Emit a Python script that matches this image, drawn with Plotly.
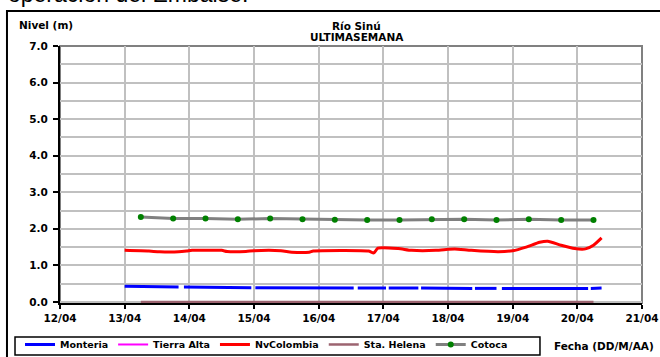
import plotly.graph_objects as go

# Niveles del Río Sinú, última semana (m)
monteria_t = ["2011-04-13 00:00", "2011-04-13 11:00", "2011-04-13 12:00", "2011-04-13 20:00", "2011-04-13 21:00",
              "2011-04-13 22:00", "2011-04-14 13:00", "2011-04-14 14:00", "2011-04-14 23:00", "2011-04-14 23:30",
              "2011-04-15 00:30", "2011-04-15 14:00", "2011-04-16 13:00", "2011-04-16 13:45", "2011-04-16 14:30",
              "2011-04-17 01:00", "2011-04-17 01:30", "2011-04-17 02:00", "2011-04-17 13:00", "2011-04-17 13:30",
              "2011-04-17 14:00", "2011-04-18 09:00", "2011-04-18 09:30", "2011-04-18 10:00", "2011-04-18 18:00",
              "2011-04-18 19:00", "2011-04-18 20:00", "2011-04-20 04:00", "2011-04-20 04:30", "2011-04-20 05:00",
              "2011-04-20 09:00"]
monteria_v = [0.43, 0.43, 0.41, 0.41, None,
              0.41, 0.41, 0.39, 0.39, None,
              0.39, 0.38, 0.38, None, 0.38,
              0.38, None, 0.38, 0.38, None,
              0.38, 0.37, None, 0.37, 0.37,
              None, 0.37, 0.37, None, 0.37,
              0.38]

# Tierra Alta: sin datos en la semana
tierra_alta_t = ["2011-04-13 00:00"]
tierra_alta_v = [None]

nvcolombia_t = ["2011-04-13 00:00", "2011-04-13 09:00", "2011-04-13 13:00", "2011-04-13 20:00", "2011-04-13 23:00",
                "2011-04-14 01:00", "2011-04-14 12:00", "2011-04-14 14:00", "2011-04-14 21:00", "2011-04-15 00:00",
                "2011-04-15 10:00", "2011-04-15 14:00", "2011-04-15 20:30", "2011-04-15 22:00", "2011-04-16 18:30",
                "2011-04-16 20:30", "2011-04-16 22:00", "2011-04-17 05:30", "2011-04-17 10:30", "2011-04-17 19:30",
                "2011-04-18 00:00", "2011-04-18 02:30", "2011-04-18 08:40", "2011-04-18 18:40", "2011-04-19 00:00",
                "2011-04-19 05:00", "2011-04-19 10:00", "2011-04-19 13:00", "2011-04-19 18:00", "2011-04-19 23:00",
                "2011-04-20 03:00", "2011-04-20 06:00", "2011-04-20 09:00"]
nvcolombia_v = [1.41, 1.39, 1.37, 1.37, 1.39,
                1.41, 1.41, 1.38, 1.38, 1.40,
                1.40, 1.36, 1.36, 1.39, 1.39,
                1.34, 1.47, 1.46, 1.41, 1.41,
                1.44, 1.45, 1.41, 1.37, 1.40,
                1.50, 1.63, 1.66, 1.55, 1.46,
                1.45, 1.55, 1.75]

sta_helena_t = ["2011-04-13 06:00", "2011-04-20 06:00"]
sta_helena_v = [0.0, 0.0]

cotoca_t = ["2011-04-13 06:00", "2011-04-13 18:00", "2011-04-14 06:00", "2011-04-14 18:00", "2011-04-15 06:00",
            "2011-04-15 18:00", "2011-04-16 06:00", "2011-04-16 18:00", "2011-04-17 06:00", "2011-04-17 18:00",
            "2011-04-18 06:00", "2011-04-18 18:00", "2011-04-19 06:00", "2011-04-19 18:00", "2011-04-20 06:00"]
cotoca_v = [2.32, 2.28, 2.28, 2.26, 2.28, 2.26, 2.25, 2.24, 2.24, 2.26, 2.26, 2.24, 2.26, 2.24, 2.24]

FONT = "DejaVu Sans"
GRID = "#C0C0C0"
BOLD = dict(family=FONT, size=10.5, color="black", weight="bold")

fig = go.Figure()

fig.add_trace(go.Scatter(x=monteria_t, y=monteria_v, name="Monteria", mode="lines",
                         line=dict(color="#0000FF", width=3), connectgaps=False))
fig.add_trace(go.Scatter(x=tierra_alta_t, y=tierra_alta_v, name="Tierra Alta", mode="lines",
                         line=dict(color="#FF00FF", width=2)))
fig.add_trace(go.Scatter(x=nvcolombia_t, y=nvcolombia_v, name="NvColombia", mode="lines",
                         line=dict(color="#FF0000", width=3, shape="spline", smoothing=0.6)))
fig.add_trace(go.Scatter(x=sta_helena_t, y=sta_helena_v, name="Sta. Helena", mode="lines",
                         line=dict(color="#9C6470", width=2.5)))
fig.add_trace(go.Scatter(x=cotoca_t, y=cotoca_v, name="Cotoca", mode="lines+markers",
                         line=dict(color="#808080", width=3),
                         marker=dict(color="#008000", size=6)))

# plot area border (gray), outer frame and legend box
fig.add_shape(type="rect", xref="paper", yref="paper", x0=0, x1=1, y0=0, y1=1,
              line=dict(color="#808080", width=2), layer="below")
fig.add_shape(type="rect", xref="paper", yref="paper", x0=-0.0911, x1=1.04, y0=-0.23, y1=1.136,
              line=dict(color="black", width=2), layer="above")
fig.add_shape(type="rect", xref="paper", yref="paper", x0=-0.0773, x1=0.8247, y0=-0.2023, y1=-0.1323,
              line=dict(color="black", width=1.5), layer="above")

fig.add_annotation(text="operación del Embalse.", xref="paper", yref="paper", x=-0.0928, y=1.145,
                   xanchor="left", yanchor="bottom", showarrow=False,
                   font=dict(family="Arial", size=23, color="black"))
fig.add_annotation(text="Río Sinú", xref="paper", yref="paper", x=0.51, y=(303 - 26) / 257,
                   xanchor="center", yanchor="middle", showarrow=False, font=BOLD)
fig.add_annotation(text="ULTIMASEMANA", xref="paper", yref="paper", x=0.51, y=(303 - 37.5) / 257,
                   xanchor="center", yanchor="middle", showarrow=False, font=BOLD)
fig.add_annotation(text="Nivel (m)", xref="paper", yref="paper", x=-0.0739, y=1.0817,
                   xanchor="left", yanchor="middle", showarrow=False, font=BOLD)
fig.add_annotation(text="Fecha (DD/M/AA)", xref="paper", yref="paper", x=0.845, y=-0.1673,
                   xanchor="left", yanchor="middle", showarrow=False, font=BOLD)

fig.update_layout(
    width=660, height=357,
    margin=dict(l=60, r=18, t=46, b=54, autoexpand=False),
    paper_bgcolor="white", plot_bgcolor="white",
    showlegend=True,
    legend=dict(orientation="h", x=-0.0687, y=-0.105, xanchor="left", yanchor="top",
                borderwidth=0, bgcolor="rgba(0,0,0,0)",
                font=dict(family=FONT, size=9.5, color="black", weight="bold")),
    xaxis=dict(type="date", range=["2011-04-12", "2011-04-21"], dtick=86400000,
               tickformat="%d/%m", showgrid=True, gridcolor=GRID, gridwidth=1.5,
               showline=True, linecolor="black", linewidth=2, ticks="outside",
               ticklen=4, tickcolor="black", tickwidth=2, layer="below traces",
               tickfont=BOLD, zeroline=False),
    yaxis=dict(range=[-0.03, 7], dtick=1, tick0=0, tickformat=".1f",
               showgrid=True, gridcolor=GRID, gridwidth=1.5,
               minor=dict(dtick=0.5, showgrid=True, gridcolor=GRID, gridwidth=1.5),
               showline=True, linecolor="black", linewidth=2, ticks="outside",
               ticklen=5, tickcolor="black", tickwidth=2, layer="below traces",
               ticklabelstandoff=3, tickfont=BOLD, zeroline=False),
)

# the page should start at its top-left corner, like the original picture
fig.write_html("out.html", config={"displayModeBar": False},
               post_script="document.body.style.margin='0';")
